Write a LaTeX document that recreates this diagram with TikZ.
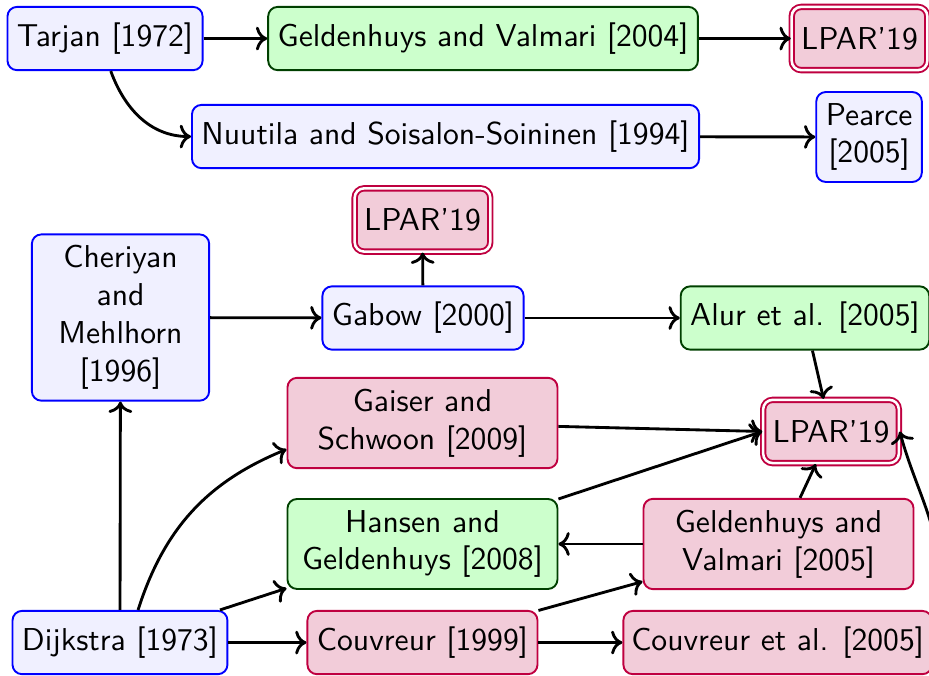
\documentclass[tikz,border=0pt]{standalone}
\usepackage{tikz}
\usetikzlibrary{arrows.meta,positioning}

\begin{document}
\begin{tikzpicture}[
  font=\sffamily,
  pbox/.style={rectangle, rounded corners=3pt, semithick, inner xsep=3pt, inner ysep=3.5pt, minimum height=20pt, align=center},
  classic/.style={pbox, draw=blue, fill=blue!6},
  sccbox/.style={pbox, draw=green!25!black, fill=green!20},
  ours/.style={pbox, draw=purple, fill=purple!20},
  lpar/.style={ours, double, double distance=0.8pt},
  dep/.style={->, line width=0.9pt},
]
\useasboundingbox (0,0) rectangle (10.322,-7.5);
% top row
\node[classic] (tarjan) at (1.167,-0.428) {Tarjan [1972]};
\node[sccbox] (gv04) at (5.367,-0.428) {Geldenhuys and Valmari [2004]};
\node[lpar] (lparA) at (9.55,-0.428) {LPAR'19};
\node[classic] (nuutila) at (4.95,-1.517) {Nuutila and Soisalon-Soininen [1994]};
\node[classic] (pearce) at (9.656,-1.522) {Pearce\\{}[2005]};
\draw[dep] (tarjan)--(gv04); \draw[dep] (gv04)--(lparA);
\draw[dep] (tarjan.-80) to[out=-70,in=180] (nuutila.west);
\draw[dep] (nuutila)--(pearce);
% middle block
\node[lpar] (lparB) at (4.694,-2.444) {LPAR'19};
\node[classic,minimum width=1.97cm] (cheriyan) at (1.339,-3.528) {Cheriyan\\and\\Mehlhorn\\{}[1996]};
\node[classic] (gabow) at (4.7,-3.533) {Gabow [2000]};
\node[sccbox] (alur) at (8.944,-3.533) {Alur et al. [2005]};
\node[ours,minimum width=3cm] (gaiser) at (4.694,-4.7) {Gaiser and\\Schwoon [2009]};
\node[lpar] (lparC) at (9.233,-4.794) {LPAR'19};
\node[sccbox,minimum width=3cm] (hansen) at (4.694,-6.044) {Hansen and\\Geldenhuys [2008]};
\node[ours,minimum width=3cm] (gv05) at (8.65,-6.044) {Geldenhuys and\\Valmari [2005]};
\draw[dep] (cheriyan)--(gabow); \draw[dep] (gabow)--(lparB); \draw[dep] (gabow)--(alur);
\draw[dep] (alur)--(lparC); \draw[dep] (gaiser)--(lparC.west); \draw[dep] (hansen)--(lparC.west);
\draw[dep] (gv05)--(hansen); \draw[dep] (gv05)--(lparC);
% bottom row
\node[classic] (dijkstra) at (1.333,-7.139) {Dijkstra [1973]};
\node[ours] (couvreur) at (4.694,-7.139) {Couvreur [1999]};
\node[ours,inner xsep=2.5pt] (couvreurB) at (8.64,-7.139) {Couvreur et al. [2005]};
\draw[dep] (dijkstra)--(cheriyan);
\draw[dep] (dijkstra) to[bend left=25] (gaiser);
\draw[dep] (dijkstra)--(hansen); \draw[dep] (dijkstra)--(couvreur);
\draw[dep] (couvreur)--(gv05); \draw[dep] (couvreur)--(couvreurB);
\draw[dep] (couvreurB.north east) to[out=75,in=-75] (lparC.east);
\end{tikzpicture}
\end{document}
